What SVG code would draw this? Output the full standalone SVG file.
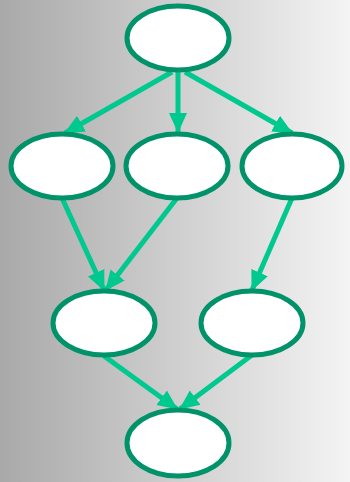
<svg xmlns="http://www.w3.org/2000/svg" width="350" height="482" viewBox="0 0 350 482">
<defs>
<linearGradient id="bg" x1="0" y1="0" x2="1" y2="0">
<stop offset="0" stop-color="#a9a9a9"/>
<stop offset="1" stop-color="#f4f4f4"/>
</linearGradient>
<marker id="ah" markerUnits="userSpaceOnUse" markerWidth="20" markerHeight="20" viewBox="0 0 20 20" refX="19" refY="10" orient="auto">
<path d="M0,1 L20,10 L0,19 Z" fill="#00c98f"/>
</marker>
<style>
.n{fill:#fff;stroke:#00936a;stroke-width:5}
.e{stroke:#00c98f;stroke-width:5;fill:none;marker-end:url(#ah)}
</style>
</defs>
<rect width="350" height="482" fill="url(#bg)"/>
<g id="edges">
<line class="e" x1="172" y1="72" x2="65" y2="133"/>
<line class="e" x1="178" y1="72" x2="178" y2="132"/>
<line class="e" x1="185" y1="72" x2="292" y2="133"/>
<line class="e" x1="62" y1="198" x2="104" y2="290"/>
<line class="e" x1="177" y1="198" x2="106" y2="290"/>
<line class="e" x1="292" y1="198" x2="252" y2="290"/>
<line class="e" x1="104" y1="356" x2="177" y2="409"/>
<line class="e" x1="252" y1="355" x2="180" y2="409"/>
</g>
<g id="n1"><ellipse class="n" cx="178" cy="38" rx="51" ry="32"/></g>
<g id="n2"><ellipse class="n" cx="62" cy="166" rx="51" ry="32"/></g>
<g id="n3"><ellipse class="n" cx="177" cy="166" rx="51" ry="32"/></g>
<g id="n4"><ellipse class="n" cx="292" cy="166" rx="50" ry="32"/></g>
<g id="n5"><ellipse class="n" cx="104" cy="323" rx="51" ry="32"/></g>
<g id="n6"><ellipse class="n" cx="252" cy="323" rx="51" ry="32"/></g>
<g id="n7"><ellipse class="n" cx="178" cy="443" rx="51" ry="33"/></g>
</svg>
